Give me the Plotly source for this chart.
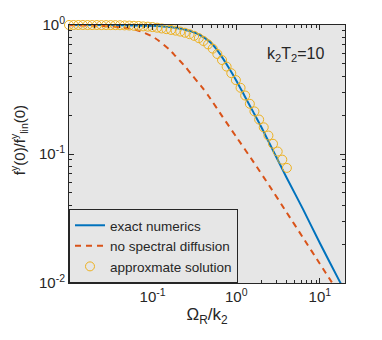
import plotly.graph_objects as go

# exact numerics (blue solid)
exact_x = [0.01, 0.0316, 0.0631, 0.1, 0.126, 0.158, 0.2, 0.251, 0.316, 0.398, 0.501, 0.631,
           0.794, 1.0, 1.259, 1.585, 1.995, 2.512, 3.162, 3.981, 6.31, 10.0, 17.38, 20.9]
exact_y = [1.0, 0.998, 0.993, 0.986, 0.977, 0.964, 0.944, 0.916, 0.875, 0.813, 0.724, 0.603,
           0.479, 0.372, 0.282, 0.214, 0.162, 0.120, 0.0891, 0.0661, 0.0372, 0.0204, 0.0102, 0.00813]

# no spectral diffusion (red dashed)
nosd_x = [0.01, 0.01995, 0.0316, 0.0501, 0.0617, 0.0794, 0.1, 0.1175, 0.1585, 0.1875, 0.2512,
          0.2979, 0.3981, 0.4732, 0.6839, 1.0, 1.585, 2.512, 3.981, 6.31, 10.0, 13.8, 19.95]
nosd_y = [0.9954, 0.9886, 0.977, 0.944, 0.923, 0.871, 0.813, 0.759, 0.646, 0.575, 0.468,
          0.407, 0.324, 0.278, 0.195, 0.136, 0.0881, 0.0562, 0.0355, 0.0224, 0.0141, 0.0102, 0.00708]

# approximate solution (open circles)
approx_x = [0.0100, 0.01135, 0.01291, 0.01466, 0.01667, 0.01892, 0.02153, 0.02443, 0.02780, 0.03155,
            0.03581, 0.04074, 0.04624, 0.05260, 0.05970, 0.06792, 0.07709, 0.08770, 0.09954, 0.1132,
            0.1285, 0.1459, 0.1660, 0.1884, 0.2143, 0.2432, 0.2767, 0.3141, 0.3573, 0.4055,
            0.4603, 0.5236, 0.5943, 0.6761, 0.7674, 0.8730, 0.9908, 1.127, 1.279, 1.455,
            1.652, 1.879, 2.133, 2.427, 2.754, 3.133, 3.556, 4.036]
approx_y = [1.000, 1.000, 1.000, 1.000, 0.999, 0.999, 0.999, 0.998, 0.998, 0.998,
            0.997, 0.996, 0.993, 0.990, 0.986, 0.983, 0.976, 0.971, 0.964, 0.953,
            0.940, 0.929, 0.916, 0.904, 0.889, 0.871, 0.849, 0.824, 0.791, 0.752,
            0.708, 0.656, 0.596, 0.535, 0.476, 0.423, 0.374, 0.326, 0.284, 0.245,
            0.214, 0.185, 0.161, 0.139, 0.120, 0.1045, 0.0904, 0.078]

x_tickvals = [0.1, 1, 10]
x_ticktext = ["10<sup>-1</sup>", "10<sup>0</sup>", "10<sup>1</sup>"]
y_tickvals = [0.01, 0.1, 1]
y_ticktext = ["10<sup>-2</sup>", "10<sup>-1</sup>", "10<sup>0</sup>"]

BLUE = "#0072BD"
RED = "#D95319"
YEL = "#EDB120"
TXT = "#262626"
FONT = "Liberation Sans, Arial"

fig = go.Figure()
fig.add_trace(go.Scatter(x=exact_x, y=exact_y, mode="lines", name="exact numerics",
                         line=dict(color=BLUE, width=2, shape="spline", smoothing=0.6)))
fig.add_trace(go.Scatter(x=nosd_x, y=nosd_y, mode="lines", name="no spectral diffusion",
                         line=dict(color=RED, width=2, dash="6px,5px", shape="spline", smoothing=0.6)))
fig.add_trace(go.Scatter(x=approx_x, y=approx_y, mode="markers", name="approxmate solution",
                         cliponaxis=False,
                         marker=dict(symbol="circle-open", size=9, color=YEL, line=dict(width=1, color=YEL))))

minor_x = [m * 10 ** e for e in range(-2, 2) for m in range(2, 10)]
minor_y = [m * 10 ** e for e in range(-2, 0) for m in range(2, 10)]

axis_common = dict(type="log", showline=True, linecolor=TXT, linewidth=1, mirror="allticks",
                   ticks="inside", ticklen=5, tickwidth=1, tickcolor=TXT, showgrid=False,
                   zeroline=False, automargin=False, tickfont=dict(family=FONT, size=15, color=TXT))

fig.update_xaxes(range=[-2, 1.301], tickvals=x_tickvals, ticktext=x_ticktext,
                 minor=dict(tickvals=minor_x, ticks="inside", ticklen=3, tickcolor=TXT, showgrid=False),
                 title=dict(text="Ω<sub>R</sub>/k<sub>2</sub>", font=dict(size=17, color=TXT, family=FONT), standoff=4),
                 **axis_common)
fig.update_yaxes(range=[-2, 0], tickvals=y_tickvals, ticktext=y_ticktext,
                 minor=dict(tickvals=minor_y, ticks="inside", ticklen=3, tickcolor=TXT, showgrid=False),
                 **axis_common)

# y-axis label as rotated annotation
fig.add_annotation(x=-0.18, y=0.555, xref="paper", yref="paper", showarrow=False, textangle=-90,
                   xanchor="center", yanchor="middle",
                   text="f<sup>y</sup>(0)/f<sup>y</sup><sub>lin</sub>(0)",
                   font=dict(size=15, color=TXT, family=FONT))

fig.add_annotation(x=0.82, y=0.884, xref="paper", yref="paper", showarrow=False,
                   xanchor="center", yanchor="middle",
                   text="k<sub>2</sub>T<sub>2</sub>=10", font=dict(size=16, color=TXT, family=FONT))

# page body has an 8px default margin, so the figure is sized to fit the window
fig.update_layout(
    width=374, height=332,
    margin=dict(l=61, r=37, t=17, b=57),
    paper_bgcolor="white", plot_bgcolor="#E6E6E6",
    font=dict(family=FONT, color=TXT),
    legend=dict(x=0, y=0, xanchor="left", yanchor="bottom", bgcolor="#E6E6E6",
                bordercolor=TXT, borderwidth=1, font=dict(size=13.5, color=TXT, family=FONT),
                itemwidth=30, tracegroupgap=0),
)

fig.write_html("out.html")
